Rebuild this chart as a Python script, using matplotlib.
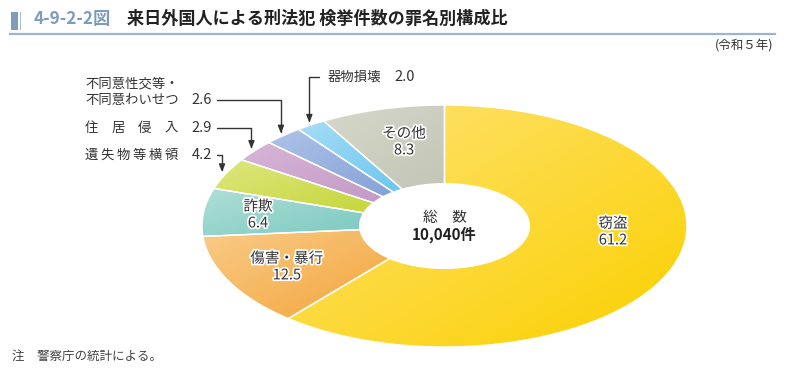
import numpy as np
import matplotlib
matplotlib.use("Agg")
import matplotlib.pyplot as plt
import matplotlib.transforms as mtransforms
import matplotlib.patheffects as pe
from matplotlib.colors import to_rgb

plt.rcParams['font.family'] = ['Noto Sans CJK JP', 'DejaVu Sans']

# ---------------- data ----------------
categories = ['窃盗', '傷害・暴行', '詐欺', '遺失物等横領', '住居侵入',
              '不同意性交等・不同意わいせつ', '器物損壊', 'その他']
values = [61.2, 12.5, 6.4, 4.2, 2.9, 2.6, 2.0, 8.3]
total_label = '10,040件'
title_num = '4-9-2-2図'
title_text = '来日外国人による刑法犯 検挙件数の罪名別構成比'
year_text = '(令和５年)'
note_text = '注　警察庁の統計による。'

colors_light = ['#FEE374', '#F9CB88', '#B0DED8', '#DDE77F', '#D9B5D8', '#AFC3E8', '#A7DDF6', '#D6D8CB']
colors_dark = ['#FBD000', '#F3A53A', '#7CCAC0', '#C6D63A', '#C29AC6', '#84A2D8', '#6CC6EE', '#C3C5B6']

W, H = 787, 375
fig = plt.figure(figsize=(W / 100, H / 100), dpi=100)
PX = mtransforms.Affine2D().scale(1 / W, -1 / H).translate(0, 1) + fig.transFigure

# donut axes (ellipse: stretched horizontally)
cx0, cx1, cy0, cy1 = 202, 687, 105, 347
ax = fig.add_axes([cx0 / W, (H - cy1) / H, (cx1 - cx0) / W, (cy1 - cy0) / H])
wedges, _ = ax.pie(values, startangle=90, counterclock=False, radius=1,
                   colors=colors_dark,
                   wedgeprops=dict(width=0.65, edgecolor='white', linewidth=1.0))
ax.set_aspect('auto')
ax.set_xlim(-1, 1)
ax.set_ylim(-1, 1)
ax.axis('off')

# gradient fill per wedge
n = 64
u, v = np.meshgrid(np.linspace(0, 1, n), np.linspace(0, 1, n))
t = (u + (1 - v)) / 2
for w, cl, cd in zip(wedges, colors_light, colors_dark):
    a = np.array(to_rgb(cl)); b = np.array(to_rgb(cd))
    img = a[None, None, :] * (1 - t[..., None]) + b[None, None, :] * t[..., None]
    bb = w.get_path().get_extents(w.get_patch_transform())
    im = ax.imshow(img, extent=(bb.x0, bb.x1, bb.y0, bb.y1), origin='lower',
                   aspect='auto', zorder=1, interpolation='bilinear')
    im.set_clip_path(w)
    w.set_facecolor('none')
    w.set_zorder(2)
ax.set_xlim(-1, 1)
ax.set_ylim(-1, 1)

halo = [pe.withStroke(linewidth=2.5, foreground='white')]
tc = '#333333'

# inside labels (data coords)
inside = {0: (0.695, -0.05), 1: (-0.650, -0.339), 2: (-0.769, 0.091), 7: (-0.167, 0.694)}
for i, (x, y) in inside.items():
    ax.text(x, y, f'{categories[i]}\n{values[i]:.1f}', ha='center', va='center',
            fontsize=10.5, color=tc, linespacing=1.25, path_effects=halo, zorder=5)

# center
ax.text(0, 0.07, '総　数', ha='center', va='center', fontsize=10.5, color=tc, zorder=5)
ax.text(0, -0.07, total_label, ha='center', va='center', fontsize=11, color='#222222',
        fontweight='bold', zorder=5)

# outside labels
cum = np.cumsum([0] + values)
def tip_px(i, r=1.02):
    mid = 90 - 360 * (cum[i] + values[i] / 2) / 100
    x = r * np.cos(np.radians(mid)); y = r * np.sin(np.radians(mid))
    disp = ax.transData.transform((x, y))
    return PX.inverted().transform(disp)

fs = 9.6
fsn = 10.5
name_left, name_right = 85, 178
def justified(text, y):
    chars = list(text)
    step = (name_right - name_left - 13) / (len(chars) - 1)
    for k, ch in enumerate(chars):
        fig.text(name_left + 6.5 + k * step, y, ch, transform=PX, fontsize=fs, color=tc,
                 va='center', ha='center')

arrowp = dict(arrowstyle='-|>,head_length=0.45,head_width=0.18', color='#333333', lw=1.0,
              shrinkA=0, shrinkB=0, mutation_scale=10)

# 遺失物等横領
y = 155
justified(categories[3], y)
fig.text(212, y, f'{values[3]:.1f}', transform=PX, fontsize=fsn, color=tc, va='center', ha='right')
tp = tip_px(3)
ax.annotate('', xy=tp, xycoords=PX, xytext=(217, y), textcoords=PX,
            arrowprops=dict(connectionstyle='angle,angleA=0,angleB=90,rad=0', **arrowp),
            annotation_clip=False)

# 住居侵入
y = 128
justified('住居侵入', y)
fig.text(212, y, f'{values[4]:.1f}', transform=PX, fontsize=fsn, color=tc, va='center', ha='right')
tp = tip_px(4)
ax.annotate('', xy=tp, xycoords=PX, xytext=(217, y), textcoords=PX,
            arrowprops=dict(connectionstyle='angle,angleA=0,angleB=90,rad=0', **arrowp),
            annotation_clip=False)

# 不同意性交等・不同意わいせつ
fig.text(name_left, 83, '不同意性交等・', transform=PX, fontsize=fs, color=tc, va='center')
y = 100
fig.text(name_left, y, '不同意わいせつ', transform=PX, fontsize=fs, color=tc, va='center')
fig.text(212, y, f'{values[5]:.1f}', transform=PX, fontsize=fsn, color=tc, va='center', ha='right')
tp = tip_px(5)
ax.annotate('', xy=tp, xycoords=PX, xytext=(217, y), textcoords=PX,
            arrowprops=dict(connectionstyle='angle,angleA=0,angleB=90,rad=0', **arrowp),
            annotation_clip=False)

# 器物損壊
y = 77
fig.text(328, y, f'{categories[6]}', transform=PX, fontsize=fs, color=tc, va='center', ha='left')
fig.text(415, y, f'{values[6]:.1f}', transform=PX, fontsize=fsn, color=tc, va='center', ha='right')
tp = tip_px(6)
ax.annotate('', xy=tp, xycoords=PX, xytext=(319, y), textcoords=PX,
            arrowprops=dict(connectionstyle='angle,angleA=0,angleB=90,rad=0', **arrowp),
            annotation_clip=False)

# title block
fig.patches.append(plt.Rectangle((11 / W, 1 - 30 / H), 7 / W, 18 / H, transform=fig.transFigure,
                                 facecolor='#7F9DBB', edgecolor='none'))
fig.patches.append(plt.Rectangle((19.5 / W, 1 - 30 / H), 1.5 / W, 18 / H, transform=fig.transFigure,
                                 facecolor='#A9BDD2', edgecolor='none'))
fig.text(34, 19, title_num, transform=PX, fontsize=12.4, color='#7D9BBF', fontweight='bold', va='center')
fig.text(127, 19, title_text, transform=PX, fontsize=12.3, color='#222222', fontweight='bold', va='center')
fig.lines.append(plt.Line2D([10 / W, 775 / W], [1 - 33.5 / H, 1 - 33.5 / H], transform=fig.transFigure,
                            color='#9DB4CC', lw=1.6))
fig.text(773, 46, year_text, transform=PX, fontsize=9, color=tc, va='center', ha='right')
fig.text(12, 356, note_text, transform=PX, fontsize=9, color='#444444', va='center', ha='left')

fig.savefig('out.png', dpi=100)
